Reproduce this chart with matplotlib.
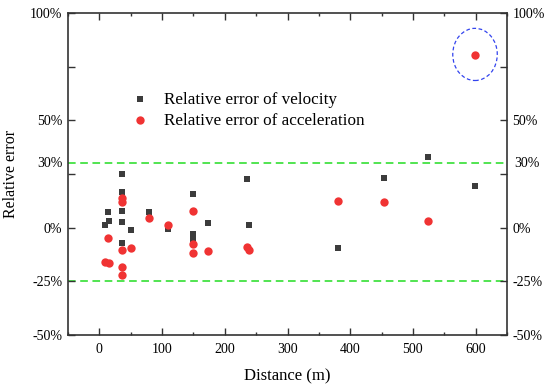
import matplotlib
matplotlib.use("Agg")
import matplotlib.pyplot as plt
from matplotlib.patches import Ellipse
from matplotlib.ticker import MultipleLocator

plt.rcParams["font.family"] = ["Liberation Serif", "DejaVu Serif"]

# distance (m) and relative error
vel_x = [9, 16, 13, 36, 36, 36, 36, 36, 50, 79, 109, 149, 149, 149, 174, 235, 238, 380, 454, 524, 599]
vel_y = [0.014, 0.030, 0.072, 0.250, 0.165, 0.079, 0.026, -0.073, -0.009, 0.075, -0.006,
         0.159, -0.053, -0.031, 0.023, 0.229, 0.012, -0.097, 0.232, 0.327, 0.193]

acc_x = [13, 9, 16, 36, 36, 36, 36, 36, 50, 79, 109, 149, 149, 149, 174, 235, 238, 380, 454, 524, 599]
acc_y = [-0.050, -0.160, -0.165, 0.140, 0.121, -0.103, -0.185, -0.220, -0.097, 0.044, 0.011,
         0.079, -0.075, -0.118, -0.110, -0.092, -0.103, 0.124, 0.120, 0.030, 0.805]

y_ticks = [-0.5, -0.25, 0, 0.25, 0.5, 0.75, 1.0]
y_labels = ["-50%", "-25%", "0%", "", "50%", "", "100%"]
limits = [0.3, -0.25]

fig = plt.figure(figsize=(5.5, 3.91), dpi=100)
ax = fig.add_axes([68 / 550, 1 - 335 / 391, 439 / 550, 322 / 391])

for lim in limits:
    ax.axhline(lim, color="#22dd22", linestyle=(0, (5, 3)), linewidth=1.1, zorder=1)

ax.scatter(vel_x, vel_y, marker="s", s=22, color="#3c3c3c", linewidths=0,
           label="Relative error of velocity", zorder=3)
ax.scatter(acc_x, acc_y, marker="o", s=36, color="#f03333", linewidths=0,
           label="Relative error of acceleration", zorder=3)

# dashed ring around the outlier
ax.add_patch(Ellipse((599, 0.807), 71, 0.243, fill=False, edgecolor="#3344ee",
                     linestyle=(0, (3, 2)), linewidth=0.9, zorder=2))

ax.set_xlim(-50, 650)
ax.set_ylim(-0.5, 1.0)
ax.xaxis.set_major_locator(MultipleLocator(100))
ax.xaxis.set_minor_locator(MultipleLocator(50))
ax.set_yticks(y_ticks)
ax.set_yticklabels(y_labels)

ax.tick_params(which="both", direction="in", top=True, right=True,
               labelright=True, labelsize=10, width=1.0, color="#333333")
ax.tick_params(which="major", length=5)
ax.tick_params(which="minor", length=2.5)
ax.tick_params(axis="x", pad=6)
ax.tick_params(axis="y", pad=4)
for sp in ax.spines.values():
    sp.set_linewidth(1.2)
    sp.set_color("#333333")

# 30% labels without ticks
for xpos, ha in [(-0.012, "right"), (1.016, "left")]:
    ax.text(xpos, 0.3, "30%", transform=ax.get_yaxis_transform(), ha=ha, va="center", fontsize=10)

ax.set_xlabel("Distance (m)", fontsize=12, labelpad=9)
ax.set_ylabel("Relative error", fontsize=11.5, labelpad=8)

ax.legend(loc="center left", bbox_to_anchor=(0.09, 0.698), frameon=False, fontsize=12.3,
          handletextpad=0.4, labelspacing=0.3, markerscale=1.0)

fig.savefig("out.png", dpi=100)
